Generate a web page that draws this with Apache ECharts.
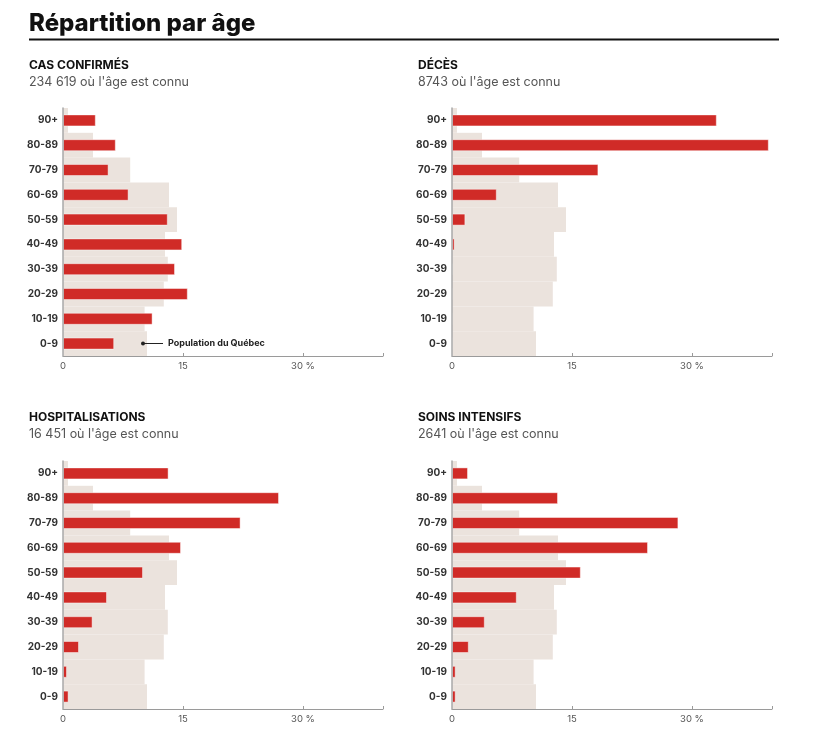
<!DOCTYPE html>
<html>
<head>
<meta charset="utf-8">
<script src="https://cdn.jsdelivr.net/npm/echarts@6/dist/echarts.min.js"></script>
<style>
html,body{margin:0;padding:0;background:#fff;}
#chart{width:823px;height:750px;}
</style>
</head>
<body>
<div id="chart"></div>
<script>
const categories = ['0-9','10-19','20-29','30-39','40-49','50-59','60-69','70-79','80-89','90+'];
const population = [10.5, 10.2, 12.6, 13.1, 12.75, 14.25, 13.25, 8.4, 3.75, 0.62];
const casConfirmes = [6.4, 11.2, 15.6, 14.0, 14.9, 13.1, 8.2, 5.7, 6.6, 4.1];
const deces = [0, 0, 0.05, 0.1, 0.33, 1.67, 5.6, 18.3, 39.6, 33.1];
const hospitalisations = [0.7, 0.5, 2.0, 3.7, 5.5, 10.0, 14.75, 22.2, 27.0, 13.2];
const soinsIntensifs = [0.46, 0.46, 2.1, 4.1, 8.1, 16.1, 24.5, 28.3, 13.25, 2.0];
const xTicks = { 0: '0', 15: '15', 30: '30 %' };
const annotationLabel = 'Population du Québec';
const mainTitle = 'Répartition par âge';

const FONT = 'Inter, "Noto Sans", sans-serif';
const RED = '#d02b27';
const BG = '#ebe3dd';

const panels = [
  { title: 'CAS CONFIRMÉS', sub: "234 619 où l'âge est connu", data: casConfirmes, left: 63, top: 108, tx: 24, ty: 54 },
  { title: 'DÉCÈS', sub: "8743 où l'âge est connu", data: deces, left: 452, top: 108, tx: 413, ty: 54 },
  { title: 'HOSPITALISATIONS', sub: "16 451 où l'âge est connu", data: hospitalisations, left: 63, top: 461, tx: 24, ty: 406 },
  { title: 'SOINS INTENSIFS', sub: "2641 où l'âge est connu", data: soinsIntensifs, left: 452, top: 461, tx: 413, ty: 406 }
];

const titles = [{
  text: mainTitle, left: 24, top: 7,
  textStyle: { fontFamily: FONT, fontSize: 24, fontWeight: 800, color: '#111' }
}];
const grids = [], xAxes = [], yAxes = [], series = [];

panels.forEach((p, i) => {
  titles.push({
    text: p.title, subtext: p.sub, left: p.tx, top: p.ty, itemGap: 5,
    textStyle: { fontFamily: FONT, fontSize: 12, fontWeight: 700, color: '#111' },
    subtextStyle: { fontFamily: FONT, fontSize: 12.5, color: '#555' }
  });
  grids.push({ left: p.left, top: p.top, width: 320, height: 248 });
  xAxes.push({
    type: 'value', gridIndex: i, min: 0, max: 40, interval: 15,
    splitLine: { show: false },
    axisLine: { show: true, lineStyle: { color: '#9a9a9a', width: 1 } },
    axisTick: { show: true, inside: true, length: 3, lineStyle: { color: '#9a9a9a' } },
    axisLabel: {
      fontFamily: FONT, fontSize: 9.5, color: '#555', margin: 5,
      formatter: v => (xTicks[v] !== undefined ? xTicks[v] : '')
    }
  });
  yAxes.push({
    type: 'category', gridIndex: i, data: categories, z: 5,
    axisLine: { show: true, lineStyle: { color: '#a8a8a8', width: 1.5 } },
    axisTick: { show: false },
    axisLabel: { fontFamily: FONT, fontSize: 10, fontWeight: 700, color: '#333', margin: 5 }
  });
  yAxes.push({
    type: 'category', gridIndex: i, data: categories, show: false
  });
  const pop = {
    type: 'bar', xAxisIndex: i, yAxisIndex: 2 * i, data: population,
    barWidth: '100%', silent: true,
    itemStyle: { color: BG }
  };
  if (i === 0) {
    pop.markLine = {
      silent: true,
      symbol: ['circle', 'none'], symbolSize: 4,
      lineStyle: { color: '#222', width: 1, type: 'solid' },
      label: {
        show: true, position: 'end', distance: 5, formatter: annotationLabel,
        fontFamily: FONT, fontSize: 9, fontWeight: 700, color: '#222'
      },
      data: [[{ coord: [10, '0-9'] }, { coord: [12.5, '0-9'] }]]
    };
  }
  series.push(pop);
  series.push({
    type: 'bar', xAxisIndex: i, yAxisIndex: 2 * i + 1, data: p.data,
    barWidth: 12, silent: true,
    itemStyle: { color: RED, borderColor: 'rgba(255,255,255,0.45)', borderWidth: 1 }
  });
});

const chart = echarts.init(document.getElementById('chart'), null, { renderer: 'canvas' });
chart.setOption({
  animation: false,
  backgroundColor: '#fff',
  title: titles,
  grid: grids,
  xAxis: xAxes,
  yAxis: yAxes,
  series: series,
  graphic: [{
    type: 'line', shape: { x1: 29, y1: 39.5, x2: 779, y2: 39.5 },
    style: { stroke: '#111', lineWidth: 2 }
  }]
});
</script>
</body>
</html>
